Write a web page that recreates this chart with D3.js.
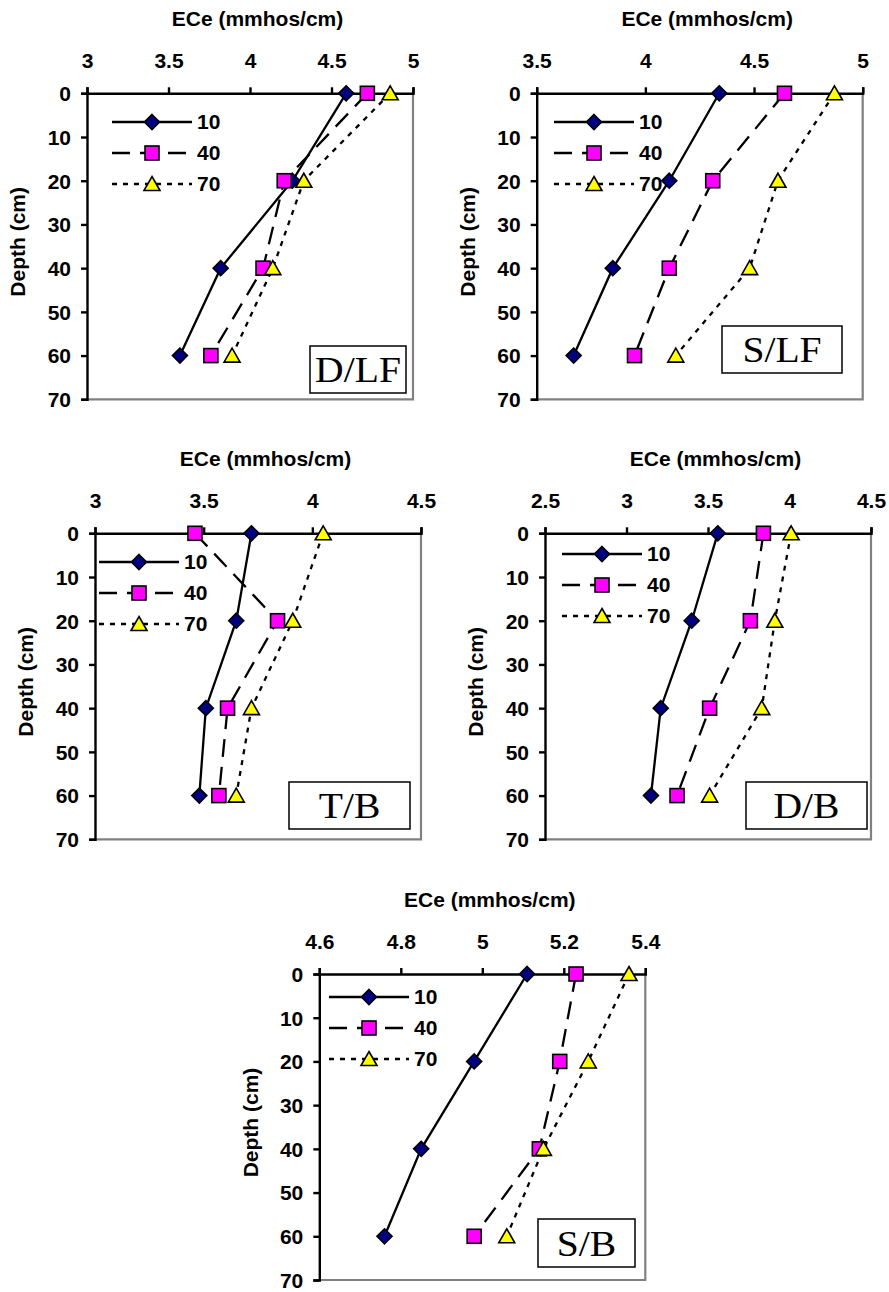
<!DOCTYPE html>
<html><head><meta charset="utf-8">
<script src="https://cdn.jsdelivr.net/npm/d3@7"></script>
<style>body{margin:0;background:#fff} svg{display:block}</style>
</head><body>
<svg id="c" width="889" height="1292"></svg>
<script>
// ---------- data ----------
const depths = [0, 20, 40, 60];
const seriesNames = ["10", "40", "70"];
const depthTicks = [0, 10, 20, 30, 40, 50, 60, 70];
const xTitle = "ECe (mmhos/cm)";
const yTitle = "Depth (cm)";

const dlf10 = [4.59, 4.26, 3.82, 3.57];
const dlf40 = [4.72, 4.21, 4.08, 3.76];
const dlf70 = [4.86, 4.33, 4.14, 3.89];
const dlfTicks = [3, 3.5, 4, 4.5, 5];

const slf10 = [4.34, 4.11, 3.85, 3.67];
const slf40 = [4.64, 4.31, 4.11, 3.95];
const slf70 = [4.87, 4.61, 4.48, 4.14];
const slfTicks = [3.5, 4, 4.5, 5];

const tb10 = [3.72, 3.65, 3.51, 3.48];
const tb40 = [3.46, 3.84, 3.61, 3.57];
const tb70 = [4.05, 3.91, 3.72, 3.65];
const tbTicks = [3, 3.5, 4, 4.5];

const db10 = [3.56, 3.40, 3.21, 3.15];
const db40 = [3.84, 3.76, 3.51, 3.31];
const db70 = [4.01, 3.91, 3.83, 3.51];
const dbTicks = [2.5, 3, 3.5, 4, 4.5];

const sb10 = [5.11, 4.98, 4.85, 4.76];
const sb40 = [5.23, 5.19, 5.14, 4.98];
const sb70 = [5.36, 5.26, 5.15, 5.06];
const sbTicks = [4.6, 4.8, 5, 5.2, 5.4];

const panelLabels = ["D/LF", "S/LF", "T/B", "D/B", "S/B"];

// ---------- layout ----------
const W = 326, H = 306;
const panels = [
  {label: panelLabels[0], s: [dlf10, dlf40, dlf70], ticks: dlfTicks, x0: 87,    y0: 93.3,  leg: [65, 28.7],   box: [223, 252.7, 96, 47]},
  {label: panelLabels[1], s: [slf10, slf40, slf70], ticks: slfTicks, x0: 536.7, y0: 93.3,  leg: [57.3, 28.7], box: [185.3, 232.7, 120, 47]},
  {label: panelLabels[2], s: [tb10, tb40, tb70],    ticks: tbTicks,  x0: 95,    y0: 533.3, leg: [44, 28.7],   box: [194, 248.7, 121, 47]},
  {label: panelLabels[3], s: [db10, db40, db70],    ticks: dbTicks,  x0: 545,   y0: 533.3, leg: [57, 20.7],   box: [201, 248.7, 121, 47]},
  {label: panelLabels[4], s: [sb10, sb40, sb70],    ticks: sbTicks,  x0: 319.3, y0: 974,   leg: [49.7, 23],   box: [218.7, 245, 97, 48]}
];

const dashes = [null, "18,10", "5,6"];
const fills = ["#000080", "#FF00FF", "#FFFF00"];
const sans = "'Liberation Sans', Arial, sans-serif";
const serif = "'Liberation Serif', 'Times New Roman', serif";

const svg = d3.select("#c");

function marker(g, i, cx, cy) {
  let el;
  if (i === 0) {
    el = g.append("path").attr("d", `M${cx},${cy-7.5}L${cx+7.5},${cy}L${cx},${cy+7.5}L${cx-7.5},${cy}Z`);
  } else if (i === 1) {
    el = g.append("rect").attr("x", cx - 7).attr("y", cy - 7).attr("width", 14).attr("height", 14);
  } else {
    el = g.append("path").attr("d", `M${cx},${cy-7.5}L${cx+8},${cy+6.5}L${cx-8},${cy+6.5}Z`);
  }
  el.attr("fill", fills[i]).attr("stroke", "#000").attr("stroke-width", 1.6);
}

panels.forEach(p => {
  const x = d3.scaleLinear().domain([p.ticks[0], p.ticks[p.ticks.length - 1]]).range([p.x0, p.x0 + W]);
  const y = d3.scaleLinear().domain([0, 70]).range([p.y0, p.y0 + H]);
  const g = svg.append("g");

  // gray right/bottom border
  g.append("path")
    .attr("d", `M${p.x0 + W},${p.y0}V${p.y0 + H}H${p.x0}`)
    .attr("fill", "none").attr("stroke", "#808080").attr("stroke-width", 2.2);

  // top axis
  const ax = g.append("g").attr("transform", `translate(0,${p.y0})`)
    .call(d3.axisTop(x).tickValues(p.ticks).tickSize(6).tickSizeOuter(6).tickPadding(19).tickFormat(d => String(d)));
  // left axis
  const ay = g.append("g").attr("transform", `translate(${p.x0},0)`)
    .call(d3.axisLeft(y).tickValues(depthTicks).tickSize(6).tickSizeOuter(6).tickPadding(10));
  [ax, ay].forEach(a => {
    a.selectAll("path.domain, line").attr("stroke", "#000").attr("stroke-width", 2.4);
    a.selectAll("text").attr("fill", "#000").style("font-family", sans)
      .style("font-weight", "bold").style("font-size", "21px");
  });
  ax.selectAll("text").attr("dy", "0");
  ay.selectAll("text").attr("dy", "0.35em");

  // titles
  g.append("text").attr("x", p.x0 + W / 2 + 7.5).attr("y", p.y0 - 67)
    .attr("text-anchor", "middle").style("font-family", sans).style("font-weight", "bold")
    .style("font-size", "21px").text(xTitle);
  g.append("text")
    .attr("transform", `translate(${p.x0 - 61.7},${p.y0 + H / 2 - 4.5}) rotate(-90)`)
    .attr("text-anchor", "middle").style("font-family", sans).style("font-weight", "bold")
    .style("font-size", "21px").text(yTitle);

  // series lines
  const line = d3.line().x(d => x(d[0])).y(d => y(d[1]));
  p.s.forEach((vals, i) => {
    const pts = vals.map((v, k) => [v, depths[k]]);
    g.append("path").attr("d", line(pts)).attr("fill", "none").attr("stroke", "#000")
      .attr("stroke-width", 2.3).attr("stroke-dasharray", dashes[i]);
  });
  p.s.forEach((vals, i) => {
    vals.forEach((v, k) => marker(g, i, x(v), y(depths[k])));
  });

  // legend
  seriesNames.forEach((name, i) => {
    const mx = p.x0 + p.leg[0], my = p.y0 + p.leg[1] + i * 31;
    g.append("line").attr("x1", mx - 40).attr("x2", mx + 40).attr("y1", my).attr("y2", my)
      .attr("stroke", "#000").attr("stroke-width", 2.3).attr("stroke-dasharray", dashes[i]);
    marker(g, i, mx, my);
    g.append("text").attr("x", mx + 45).attr("y", my).attr("dy", "0.35em")
      .style("font-family", sans).style("font-weight", "bold").style("font-size", "21px").text(name);
  });

  // label box
  const bx = p.x0 + p.box[0], by = p.y0 + p.box[1], bw = p.box[2], bh = p.box[3];
  g.append("rect").attr("x", bx).attr("y", by).attr("width", bw).attr("height", bh)
    .attr("fill", "#fff").attr("stroke", "#000").attr("stroke-width", 1.5);
  g.append("text")
    .attr("transform", `translate(${bx + bw / 2},${by + bh / 2 + 12.5}) scale(1.1,1)`)
    .attr("text-anchor", "middle").style("font-family", serif).style("font-size", "36px").text(p.label);
});
</script>
</body></html>
